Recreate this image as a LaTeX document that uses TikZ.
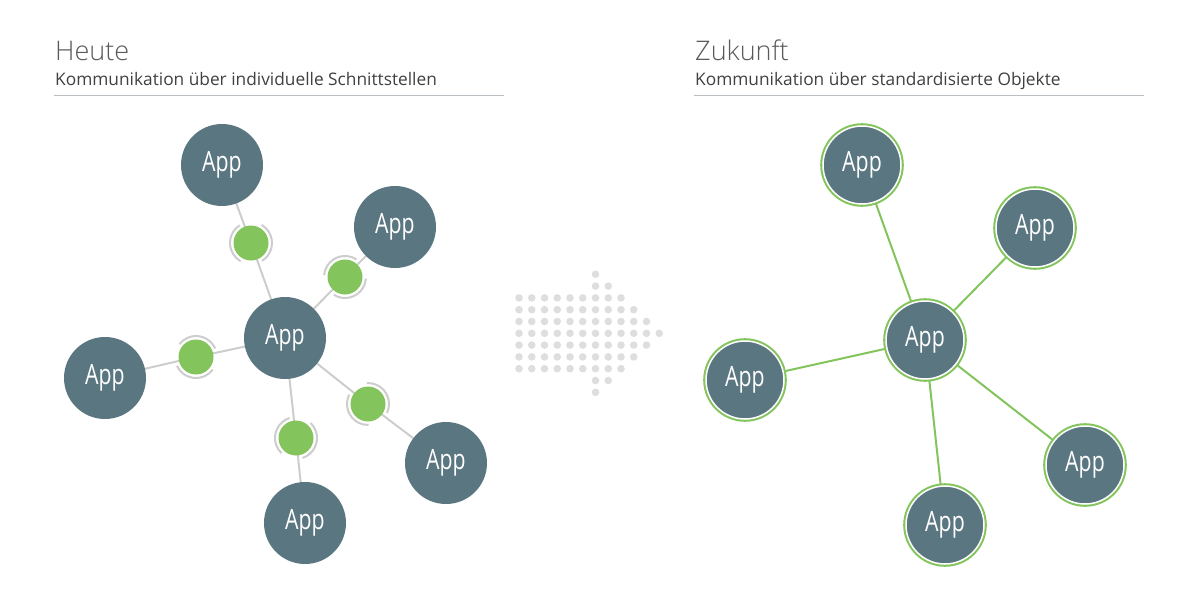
\documentclass[tikz,border=0pt]{standalone}
\usepackage{graphicx}
\usepackage{fontspec}
\setmainfont{Open Sans}
\newfontfamily\lightfont{Open Sans}[UprightFont={* Light}]
\usetikzlibrary{backgrounds}
\definecolor{appc}{HTML}{5A7681}
\definecolor{grn}{HTML}{84C45D}
\definecolor{lgray}{HTML}{CDCDCD}
\definecolor{dotc}{HTML}{DEDEDE}
\definecolor{titc}{HTML}{5A5A5A}
\definecolor{subc}{HTML}{404040}
\definecolor{rulec}{HTML}{B9BFC3}
\newcommand\apptext{\scalebox{0.76}[1]{App}}
\newcommand\socket[3]{%
  \draw[sockline] (#1.center) ++(#2+12:21) arc[start angle=#2+12, end angle=#2+130, radius=21];
  \draw[sockline] (#1.center) ++(#3+12:21) arc[start angle=#3+12, end angle=#3+130, radius=21];
}
\tikzset{
  app/.style={circle, fill=appc, inner sep=0pt, minimum size=82pt, text=white,
    font=\fontsize{28}{30}\selectfont},
  appr/.style={app, minimum size=78pt, draw=white, line width=1.5pt,
    preaction={draw=grn, line width=5.6pt}},
  conn/.style={circle, fill=grn, inner sep=0pt, minimum size=35pt},
  gline/.style={draw=lgray, line width=2pt},
  grline/.style={draw=grn, line width=2pt},
  sockline/.style={draw=lgray, line width=2pt},
  titl/.style={anchor=base west, inner sep=0pt, text=titc, font=\lightfont\fontsize{27}{30}\selectfont},
  subt/.style={anchor=base west, inner sep=0pt, text=subc, font=\fontsize{17.3}{20}\selectfont},
  rul/.style={draw=rulec, line width=1pt},
  dot/.style={fill=dotc}
}
\begin{document}
\begin{tikzpicture}[x=1pt,y=1pt]
\useasboundingbox (0,0) rectangle (1200,-600);
% titles
\node[titl] (h1) at (55,-60.7) {Heute};
\node[subt] (s1) at (55,-85) {Kommunikation über individuelle Schnittstellen};
\draw[rul] (54,-95.5) -- (503.5,-95.5);
\node[titl] (h2) at (695,-60.7) {Zukunft};
\node[subt] (s2) at (695,-85) {Kommunikation über standardisierte Objekte};
\draw[rul] (694,-95.5) -- (1143.5,-95.5);
% left apps
\node[app] (lc) at (285,-338) {\apptext};
\node[app] (lt) at (222,-165) {\apptext};
\node[app] (lur) at (395,-227) {\apptext};
\node[app] (ll) at (105,-378) {\apptext};
\node[app] (llr) at (446,-463) {\apptext};
\node[app] (lb) at (305,-523) {\apptext};
% connectors
\node[conn] (g1) at (251,-243) {};
\node[conn] (g2) at (345,-277) {};
\node[conn] (g3) at (196,-357) {};
\node[conn] (g4) at (368,-404) {};
\node[conn] (g5) at (296,-438) {};
\socket{g1}{110.4}{-70.3}
\socket{g2}{45}{225.5}
\socket{g3}{193}{12}
\socket{g4}{141.5}{-37}
\socket{g5}{96}{-84}
% right apps
\node[appr] (rc) at (925,-340) {\apptext};
\node[appr] (rt) at (862,-165) {\apptext};
\node[appr] (rur) at (1035,-228) {\apptext};
\node[appr] (rl) at (745,-380) {\apptext};
\node[appr] (rlr) at (1085,-465) {\apptext};
\node[appr] (rb) at (945,-525) {\apptext};
\begin{pgfonlayer}{background}
  \draw[gline] (lt.center) -- (g1.center) -- (lc.center);
  \draw[gline] (lur.center) -- (g2.center) -- (lc.center);
  \draw[gline] (ll.center) -- (g3.center) -- (lc.center);
  \draw[gline] (llr.center) -- (g4.center) -- (lc.center);
  \draw[gline] (lb.center) -- (g5.center) -- (lc.center);
  \draw[grline] (rt.center) -- (rc.center);
  \draw[grline] (rur.center) -- (rc.center);
  \draw[grline] (rl.center) -- (rc.center);
  \draw[grline] (rlr.center) -- (rc.center);
  \draw[grline] (rb.center) -- (rc.center);
\end{pgfonlayer}
% dotted arrow
\foreach \r/\a/\b in {0/6/6, 1/6/7, 2/0/8, 3/0/9, 4/0/10, 5/0/11, 6/0/10, 7/0/9, 8/0/8, 9/6/7, 10/6/6}{
  \foreach \c in {\a,...,\b}{
    \fill[dot] (519+\c*12.75, -274.3-\r*11.8) circle (3.8);
  }
}
\end{tikzpicture}
\end{document}
